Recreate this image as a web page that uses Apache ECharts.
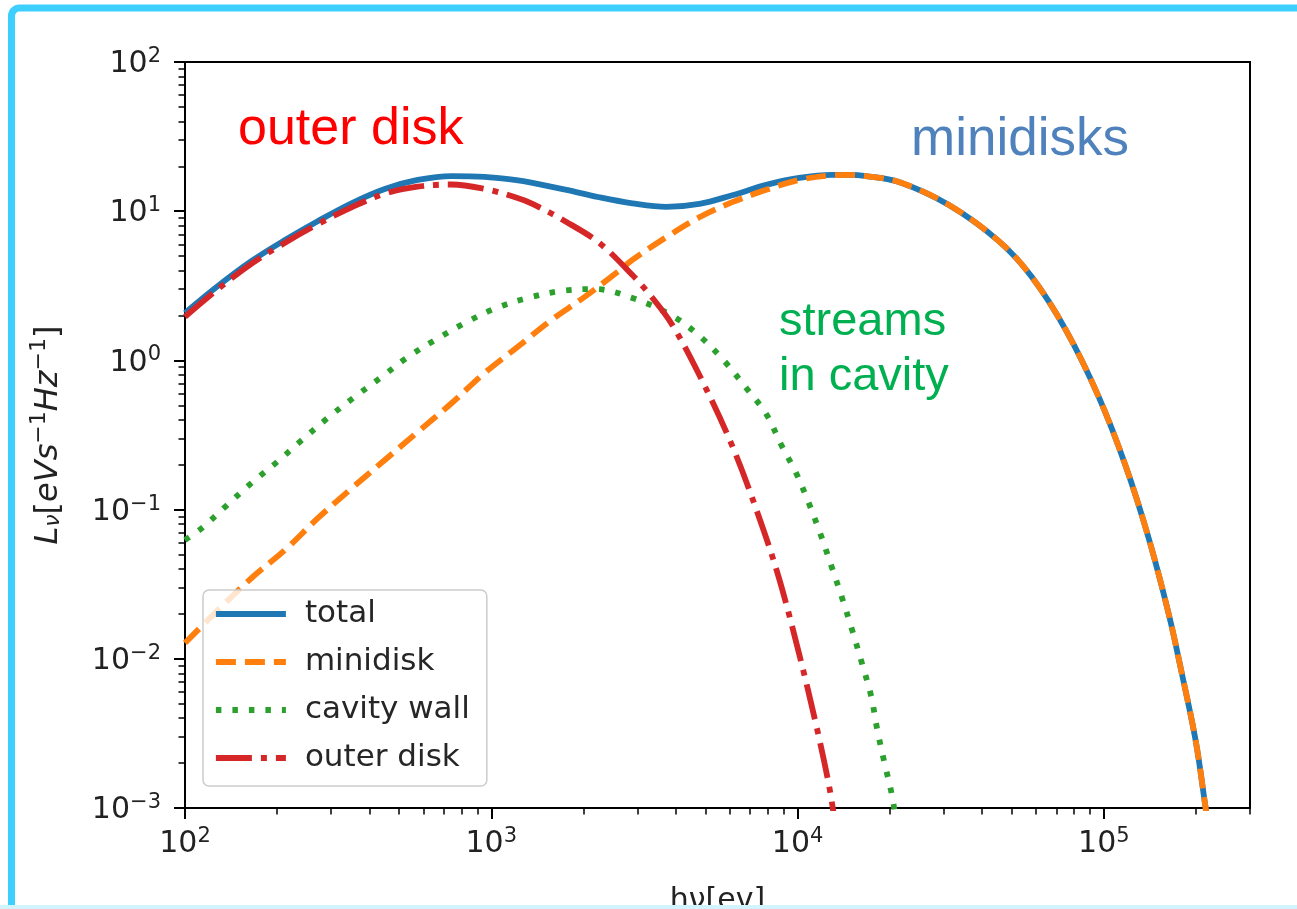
<!DOCTYPE html>
<html><head><meta charset="utf-8">
<script src="https://cdn.jsdelivr.net/npm/echarts@6/dist/echarts.min.js"></script>
<style>html,body{margin:0;padding:0;background:#fff}#c{width:1297px;height:909px}</style>
</head><body><div id="c"></div><script>
// ---- data (x: hν in eV, y: Lν) ----
const seriesNames = ['total', 'minidisk', 'cavity wall', 'outer disk'];
const totalData = [[100,2.08],[128,3.15],[165,4.64],[212,6.41],[272,8.6],[351,11.35],[449,14.1],[575,16.2],[743,17.2],[951,17.0],[1191,16.2],[1363,15.5],[1759,13.9],[2254,12.4],[2889,11.3],[3730,10.7],[4779,11.2],[6120,12.8],[7900,15.0],[10120,16.7],[12960,17.5],[14720,17.5],[16740,17.2],[21430,15.7],[31200,11.0],[45400,6.3],[58200,3.62],[75100,1.60],[96200,0.569],[117800,0.196],[140000,0.0645],[162800,0.020],[179600,0.00803],[199500,0.00281],[214900,0.001],[224900,0.000525]];
const minidiskData = [[100,0.01276],[128,0.0212],[165,0.0348],[212,0.0536],[272,0.0879],[351,0.1396],[449,0.215],[575,0.331],[743,0.518],[951,0.824],[1218,1.23],[1574,1.87],[2015,2.66],[2581,3.91],[2889,4.71],[3730,6.7],[4779,9.1],[6120,11.5],[7900,13.9],[10120,16.2],[12960,17.4],[14720,17.5],[16740,17.2],[21430,15.7],[31200,11.0],[45400,6.3],[58200,3.62],[75100,1.60],[96200,0.569],[117800,0.196],[140000,0.0645],[162800,0.020],[179600,0.00803],[199500,0.00281],[214900,0.001],[224900,0.000525]];
const cavityWallData = [[100,0.0625],[113.6,0.0753],[135,0.104],[165,0.151],[199.5,0.208],[240.6,0.292],[292.3,0.411],[358,0.569],[438.5,0.774],[533,1.05],[663,1.39],[819,1.78],[1040,2.25],[1312,2.62],[1693,2.92],[2172,3.01],[2889,2.62],[3899,1.99],[4779,1.46],[5765,0.99],[6795,0.653],[7900,0.437],[8850,0.271],[9890,0.176],[10910,0.109],[11940,0.0665],[12960,0.0406],[13970,0.0256],[15070,0.0156],[16250,0.00923],[17380,0.00564],[18190,0.00338],[19160,0.00206],[20330,0.00122],[20940,0.00083]];
const outerDiskData = [[100,1.96],[128,3.0],[165,4.45],[212,6.15],[272,8.2],[351,10.65],[449,13.1],[575,14.6],[743,15.1],[951,14.1],[1191,12.45],[1363,11.2],[1759,8.47],[2254,6.12],[2889,3.73],[3360,2.62],[3899,1.73],[4779,0.798],[6120,0.267],[7500,0.0879],[8710,0.0343],[10120,0.01076],[11500,0.0036],[12680,0.0014],[13270,0.00077]];

// ---- axes / ticks ----
const xMin = 100, xMax = 300000;
const yMin = 0.001, yMax = 100;
const xMajorTicks = [100, 1000, 10000, 100000];
const yMajorTicks = [0.001, 0.01, 0.1, 1, 10, 100];
function minorTicks(lo, hi) {
  const out = [];
  for (let e = Math.floor(Math.log10(lo)); e <= Math.ceil(Math.log10(hi)); e++) {
    for (let m = 2; m <= 9; m++) {
      const v = m * Math.pow(10, e);
      if (v > lo && v <= hi * 1.0001) out.push(v);
    }
  }
  return out;
}
const xMinorTicks = minorTicks(xMin, xMax);
const yMinorTicks = minorTicks(yMin, yMax);

const annotations = [
  { text: 'outer disk', color: '#ff0000' },
  { text: 'minidisks', color: '#4f81bd' },
  { text: 'streams\nin cavity', color: '#00b050' }
];

const colors = ['#1f77b4', '#ff7f0e', '#2ca02c', '#d62728'];
const dashes = ['solid', [20, 9], [5.5, 11], [36, 9, 6, 9]];
const FONT = 'DejaVu Sans';
const LW = 5.8;

function sciLabel(v) {
  const e = Math.round(Math.log10(v));
  const s = e < 0 ? '\u2212' + (-e) : '' + e;
  return '{b|10}{s|' + s + '}';
}
const sciRich = {
  b: { fontSize: 30, fontFamily: FONT, color: '#222', lineHeight: 32, padding: [5, 0, 0, 0] },
  s: { fontSize: 21, fontFamily: FONT, color: '#222', lineHeight: 21, verticalAlign: 'top' }
};

const chart = echarts.init(document.getElementById('c'), null, { renderer: 'canvas' });
const grid = { left: 185, right: 47, top: 62, bottom: 101, show: true, borderColor: '#000', borderWidth: 2, backgroundColor: 'transparent', containLabel: false, outerBoundsMode: 'none' };

function baseLog(extra) {
  return Object.assign({
    type: 'log', logBase: 10, gridIndex: 0,
    splitLine: { show: false }, minorTick: { show: false }, minorSplitLine: { show: false },
    axisPointer: { show: false }
  }, extra);
}

const option = {
  animation: false,
  backgroundColor: '#fff',
  grid: grid,
  xAxis: [
    baseLog({
      min: xMin, max: xMax, position: 'bottom',
      axisLine: { show: true, onZero: false, lineStyle: { color: '#000', width: 2 } },
      axisTick: { show: true, inside: false, length: 11, lineStyle: { color: '#000', width: 2 }, customValues: xMajorTicks },
      axisLabel: { show: true, margin: 18, formatter: sciLabel, rich: sciRich, customValues: xMajorTicks },
      name: 'h\u03bd[ev]', nameLocation: 'middle', nameGap: 78,
      nameTextStyle: { fontSize: 30, fontFamily: FONT, color: '#222' }
    }),
    baseLog({
      min: xMin, max: xMax, position: 'bottom',
      axisLine: { show: false },
      axisTick: { show: true, inside: false, length: 6.5, lineStyle: { color: '#000', width: 1.5 }, customValues: xMinorTicks },
      axisLabel: { show: false }
    })
  ],
  yAxis: [
    baseLog({
      min: yMin, max: yMax, position: 'left',
      axisLine: { show: true, onZero: false, lineStyle: { color: '#000', width: 2 } },
      axisTick: { show: true, inside: false, length: 11, lineStyle: { color: '#000', width: 2 }, customValues: yMajorTicks },
      axisLabel: { show: true, margin: 24, formatter: sciLabel, rich: sciRich, customValues: yMajorTicks },
      name: '{i|L}{sub|\u03bd}{n|[}{i|eVs}{sup|\u22121}{i|Hz}{sup|\u22121}{n|]}',
      nameLocation: 'middle', nameRotate: 90, nameGap: 121,
      nameTextStyle: {
        rich: {
          i: { fontSize: 32, fontFamily: FONT, fontStyle: 'italic', color: '#222', lineHeight: 36, padding: [6, 0, 0, 0] },
          n: { fontSize: 32, fontFamily: FONT, color: '#222', lineHeight: 36, padding: [6, 0, 0, 0] },
          sub: { fontSize: 22, fontFamily: FONT, fontStyle: 'italic', color: '#222', lineHeight: 22, verticalAlign: 'bottom' },
          sup: { fontSize: 22, fontFamily: FONT, color: '#222', lineHeight: 22, verticalAlign: 'top' }
        }
      }
    }),
    baseLog({
      min: yMin, max: yMax, position: 'left',
      axisLine: { show: false },
      axisTick: { show: true, inside: false, length: 6.5, lineStyle: { color: '#000', width: 1.5 }, customValues: yMinorTicks },
      axisLabel: { show: false }
    })
  ],
  legend: {
    orient: 'vertical', left: 203, top: 590,
    data: seriesNames,
    itemWidth: 70, itemHeight: 14, itemGap: 12,
    padding: [6, 17, 10, 10],
    backgroundColor: 'rgba(255,255,255,0.8)',
    borderColor: '#cccccc', borderWidth: 1.5, borderRadius: 6,
    itemStyle: { opacity: 0, borderWidth: 0 },
    lineStyle: { width: LW },
    textStyle: { fontSize: 31, fontFamily: FONT, color: '#262626', lineHeight: 36, padding: [0, 0, 0, 14] },
    selectedMode: false
  },
  graphic: [
    { type: 'rect', z: 100, silent: true, shape: { x: 11.5, y: 8, width: 1320, height: 905, r: 8 }, style: { fill: 'none', stroke: '#3ccfff', lineWidth: 7 } },
    { type: 'rect', z: 100, silent: true, shape: { x: 0, y: 905, width: 1297, height: 4 }, style: { fill: '#d2f4ff' } },
    { type: 'text', z: 50, left: 238, top: 104, style: { text: annotations[0].text, fill: annotations[0].color, fontSize: 52, fontFamily: 'Liberation Sans' } },
    { type: 'text', z: 50, left: 911, top: 114, style: { text: annotations[1].text, fill: annotations[1].color, fontSize: 53, fontFamily: 'Liberation Sans' } },
    { type: 'text', z: 50, left: 779, top: 295, style: { text: annotations[2].text, fill: annotations[2].color, fontSize: 47, lineHeight: 55, fontFamily: 'Liberation Sans' } }
  ],
  series: [totalData, minidiskData, cavityWallData, outerDiskData].map((d, i) => ({
    type: 'line', name: seriesNames[i], data: d, xAxisIndex: 0, yAxisIndex: 0,
    color: colors[i], showSymbol: false, symbol: 'none', smooth: 0.35, clip: true,
    lineStyle: { color: colors[i], width: LW, type: dashes[i], cap: 'butt' },
    emphasis: { disabled: true }
  }))
};
chart.setOption(option);
</script></body></html>
